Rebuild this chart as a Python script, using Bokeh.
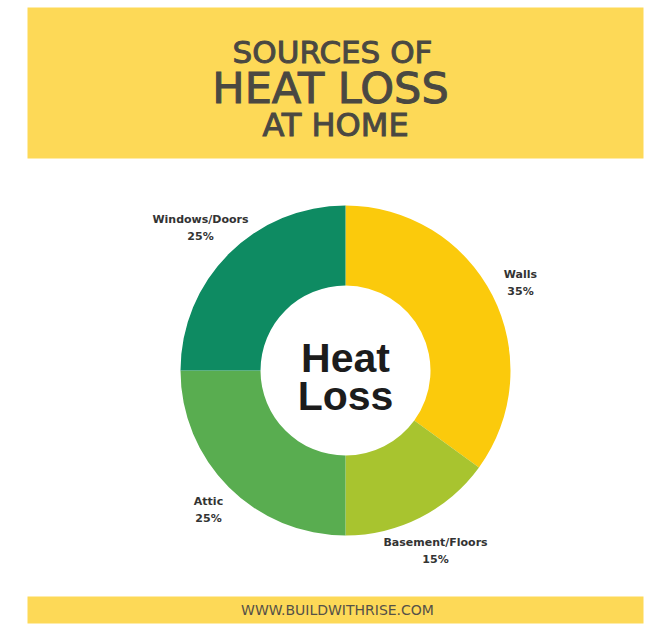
import numpy as np
from bokeh.plotting import figure
from bokeh.models import Range1d, ColumnDataSource
from bokeh.core.properties import value
from bokeh.embed import file_html
from bokeh.resources import INLINE

# Share of household heat loss by source
categories = ["Walls", "Basement/Floors", "Attic", "Windows/Doors"]
shares = [35, 15, 25, 25]
colors = ["#FBCA0C", "#A8C42F", "#59AD50", "#0E8B62"]

W, H = 649, 627


def fy(y):
    """Convert a top-down page offset to the plot's bottom-up y coordinate."""
    return H - y


p = figure(width=W, height=H, output_backend="svg", toolbar_location=None,
           x_range=Range1d(0, W), y_range=Range1d(0, H), min_border=0)
p.axis.visible = False
p.grid.visible = False
p.outline_line_color = None
p.background_fill_color = "white"
p.border_fill_color = "white"

YEL = "#FDD957"
# header and footer bands
p.quad(left=27, right=643, top=fy(7), bottom=fy(158), fill_color=YEL, line_color=None)
p.quad(left=27, right=643, top=fy(596), bottom=fy(623), fill_color=YEL, line_color=None)

title_font = value("DejaVu Sans")
tc = "#4A4842"
title_style = dict(text_font=title_font, text_align="center", text_baseline="middle",
                   text_color=tc, text_outline_color=tc)
p.text(x=[332], y=[fy(51)], text=["SOURCES OF"], text_font_size="31px", **title_style)
p.text(x=[330], y=[fy(87)], text=["HEAT LOSS"], text_font_size="43px", **title_style)
p.text(x=[335], y=[fy(124)], text=["AT HOME"], text_font_size="32px", **title_style)
p.text(x=[337], y=[fy(609)], text=["WWW.BUILDWITHRISE.COM"], text_font=title_font,
       text_font_size="14px", text_align="center", text_baseline="middle", text_color="#555148")

# donut: starts at 12 o'clock and runs clockwise
cx, cy, r_out, r_in = 345, fy(370), 165, 85
frac = np.array(shares) / sum(shares)
cum = np.concatenate([[0], np.cumsum(frac)])
start = np.pi / 2 - cum[:-1] * 2 * np.pi
end = np.pi / 2 - cum[1:] * 2 * np.pi
src = ColumnDataSource(dict(start=start, end=end, color=colors))
p.annular_wedge(x=cx, y=cy, inner_radius=r_in, outer_radius=r_out,
                start_angle="start", end_angle="end", direction="clock",
                fill_color="color", line_color=None, source=src)

center_font = value("Liberation Sans")
p.text(x=[cx], y=[fy(357)], text=["Heat"], text_font=center_font, text_font_style="bold",
       text_font_size="41px", text_align="center", text_baseline="middle", text_color="#1C1C1C")
p.text(x=[cx], y=[fy(395)], text=["Loss"], text_font=center_font, text_font_style="bold",
       text_font_size="41px", text_align="center", text_baseline="middle", text_color="#1C1C1C")

# slice labels: name on top, share underneath
lab_x = [520, 435, 208, 200]
lab_y = [274, 542, 501, 219]
lab = ColumnDataSource(dict(x=lab_x, y=[fy(v) for v in lab_y], name=categories,
                            y2=[fy(v + 17) for v in lab_y], pct=[f"{s}%" for s in shares]))
p.text(x="x", y="y", text="name", source=lab, text_font=value("DejaVu Sans"), text_font_style="bold",
       text_font_size="11px", text_align="center", text_baseline="middle", text_color="#333333")
p.text(x="x", y="y2", text="pct", source=lab, text_font=value("DejaVu Sans"), text_font_style="bold",
       text_font_size="11px", text_align="center", text_baseline="middle", text_color="#333333")

open("out.html", "w").write(file_html(p, INLINE))
